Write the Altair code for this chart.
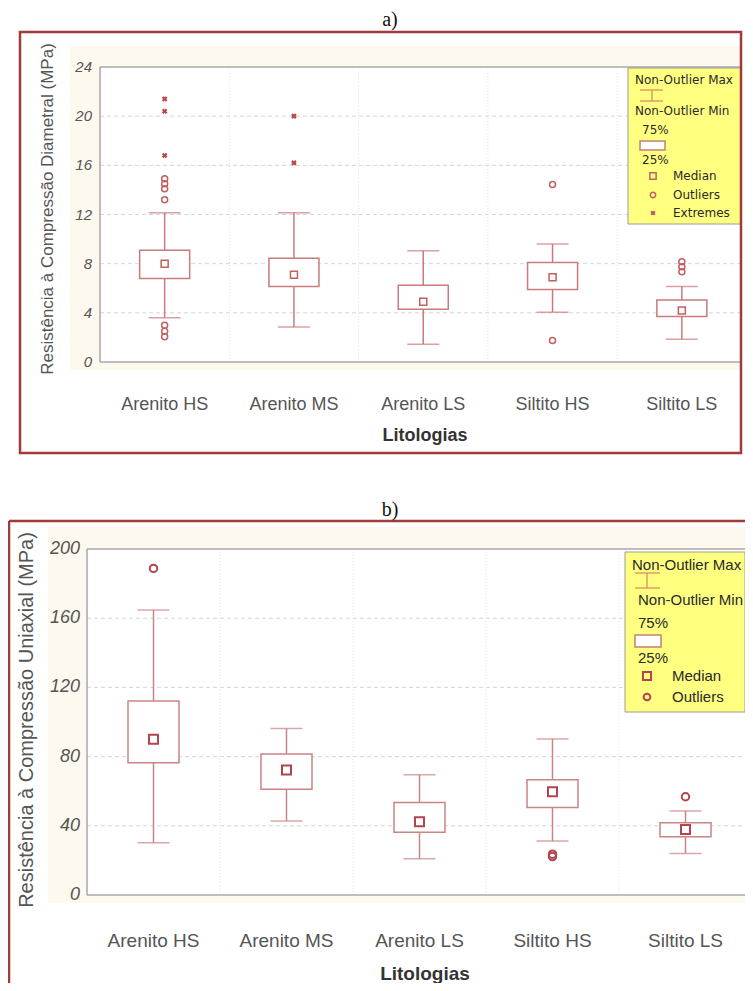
import altair as alt
import pandas as pd

# ---------------- data ----------------
cats = ["Arenito HS", "Arenito MS", "Arenito LS", "Siltito HS", "Siltito LS"]

# a) Resistência à Compressão Diametral (MPa)
a_min = [3.6, 2.85, 1.45, 4.05, 1.85]
a_q1 = [6.8, 6.15, 4.3, 5.9, 3.7]
a_med = [8.0, 7.1, 4.9, 6.9, 4.2]
a_q3 = [9.1, 8.45, 6.25, 8.1, 5.05]
a_max = [12.15, 12.15, 9.05, 9.6, 6.15]
a_out_cat = ["Arenito HS"] * 7 + ["Siltito HS"] * 2 + ["Siltito LS"] * 3
a_out_val = [14.9, 14.5, 14.1, 13.2, 3.0, 2.5, 2.05, 14.45, 1.75, 8.15, 7.75, 7.35]
a_ext_cat = ["Arenito HS"] * 3 + ["Arenito MS"] * 2
a_ext_val = [21.4, 20.4, 16.8, 20.0, 16.2]
a_ticks = [0, 4, 8, 12, 16, 20, 24]

# b) Resistência à Compressão Uniaxial (MPa)
b_min = [30.2, 42.8, 21.0, 31.2, 24.0]
b_q1 = [76.4, 61.1, 36.2, 50.6, 33.7]
b_med = [90.0, 72.3, 42.3, 59.7, 37.9]
b_q3 = [112.1, 81.5, 53.5, 66.6, 41.8]
b_max = [164.7, 96.3, 69.5, 90.2, 48.5]
b_out_cat = ["Arenito HS", "Siltito HS", "Siltito HS", "Siltito LS"]
b_out_val = [188.8, 23.6, 22.2, 56.8]
b_ticks = [0, 40, 80, 120, 160, 200]

FONT = "Liberation Sans"
FRAME = "#a23a3a"
CREAM = "#fdf9ee"
LEGEND_BG = "#ffff80"
M = 8  # page margin: page coordinate -> chart coordinate
dummy = pd.DataFrame({"k": [0]})


def rect(x, x2, y, y2, **kw):
    return alt.Chart(dummy).mark_rect(**kw).encode(
        x=alt.value(x - M), x2=alt.value(x2 - M), y=alt.value(y - M), y2=alt.value(y2 - M))


def rule(x, x2, y, y2, **kw):
    return alt.Chart(dummy).mark_rule(**kw).encode(
        x=alt.value(x - M), x2=alt.value(x2 - M), y=alt.value(y - M), y2=alt.value(y2 - M))


def text(t, x, y, **kw):
    return alt.Chart(dummy).mark_text(text=t, **kw).encode(x=alt.value(x - M), y=alt.value(y - M))


def point(x, y, **kw):
    return alt.Chart(dummy).mark_point(**kw).encode(x=alt.value(x - M), y=alt.value(y - M))


def panel(P):
    x0, x1, y0, y1 = P["plot"]          # plot area (page coords)
    xr0, xr1 = P["xrange"]              # band range (page coords)
    xsc = alt.Scale(domain=cats, range=[xr0 - M, xr1 - M], paddingInner=0, paddingOuter=0)
    ysc = alt.Scale(domain=P["ydom"], range=[y1 - M, y0 - M], nice=False, zero=False)

    def X(**kw):
        return alt.X("cat:N", scale=xsc, axis=None, **kw)

    def Y(f):
        return alt.Y(f, type="quantitative", scale=ysc, axis=None)

    box_df = pd.DataFrame({"cat": cats, "lo": P["mn"], "q1": P["q1"], "med": P["med"],
                           "q3": P["q3"], "hi": P["mx"]})
    out_df = pd.DataFrame({"cat": P["out_cat"], "v": P["out_val"]})
    tick_df = pd.DataFrame({"v": P["ticks"]})
    grid_df = pd.DataFrame({"v": P["ticks"][1:-1]})
    vgrid_df = pd.DataFrame({"cat": cats[1:]})
    cat_df = pd.DataFrame({"cat": cats})
    C = P["color"]
    CM = P["mcolor"]
    lw = P["lw"]

    layers = []
    cr = P["cream"]
    layers.append(rect(cr[0], cr[1], cr[2], cr[3], fill=CREAM))
    layers.append(rect(x0, x1, y0, y1, fill="white"))
    # grid
    layers.append(alt.Chart(grid_df).mark_rule(color="#d6d6d6", strokeDash=[4, 3], strokeWidth=1).encode(
        y=Y("v"), x=alt.value(x0 - M), x2=alt.value(x1 - M)))
    layers.append(alt.Chart(vgrid_df).mark_rule(color="#e2e2e2", strokeDash=[1, 2], strokeWidth=1).encode(
        x=X(bandPosition=0), y=alt.value(y0 - M), y2=alt.value(y1 - M)))
    # plot borders
    layers.append(rule(x0, x0, y0, y1, color="#a8a8a8", strokeWidth=1.5))
    layers.append(rule(x0, x1, y0, y0, color="#a8a8a8", strokeWidth=1.5))
    layers.append(rule(x0, x1, y1, y1, color="#a8a8a8", strokeWidth=1.5))
    # tick labels
    layers.append(alt.Chart(tick_df).mark_text(
        font=FONT, fontSize=P["ylab_fs"], fontStyle="italic", color="#555",
        align="right", baseline="middle").encode(
        y=Y("v"), x=alt.value(P["ylab_x"] - M), text=alt.Text("v:Q")))
    layers.append(alt.Chart(cat_df).mark_text(
        font=FONT, fontSize=P["xlab_fs"], color="#555", align="center",
        baseline="alphabetic").encode(
        x=X(), y=alt.value(P["xlab_y"] - M), text=alt.Text("cat:N")))
    # boxes
    base = alt.Chart(box_df)
    layers.append(base.mark_rule(color=C, strokeWidth=lw).encode(x=X(), y=Y("lo"), y2=alt.Y2("hi")))
    layers.append(base.mark_bar(size=P["boxw"], fill="white", stroke=C, strokeWidth=lw).encode(
        x=X(), y=Y("q1"), y2=alt.Y2("q3")))
    layers.append(base.mark_tick(size=P["capw"], thickness=lw, color=C).encode(x=X(), y=Y("lo")))
    layers.append(base.mark_tick(size=P["capw"], thickness=lw, color=C).encode(x=X(), y=Y("hi")))
    layers.append(base.mark_point(shape="square", size=P["medsize"], filled=False, color=CM,
                                  strokeWidth=P["medlw"], opacity=1).encode(x=X(), y=Y("med")))
    layers.append(alt.Chart(out_df).mark_point(shape="circle", size=P["outsize"], filled=False,
                                               color=CM, strokeWidth=P["medlw"], opacity=1).encode(
        x=X(), y=Y("v")))
    if P.get("ext_cat"):
        ext_df = pd.DataFrame({"cat": P["ext_cat"], "v": P["ext_val"]})
        layers.append(alt.Chart(ext_df).mark_point(shape="cross", angle=45, size=32, filled=True,
                                                   color="#b84a4a", opacity=1).encode(x=X(), y=Y("v")))

    # legend (page coords = plot origin + offsets)
    L = P["legend"]
    ox, oy = x0, y0
    lf = L["font"]
    tk = dict(font=lf, fontSize=L["fs"], color="#2a2a2a", align="left", baseline="middle")
    r = L["rect"]
    layers.append(rect(ox + r[0], ox + r[1], oy + r[2], oy + r[3], fill=LEGEND_BG,
                       stroke="#9a9a9a", strokeWidth=1))
    layers.append(text("Non-Outlier Max", ox + L["t1x"], oy + L["t1y"], **tk))
    wx, wy1, wy2, cx1, cx2 = L["whisk"]
    layers.append(rule(ox + wx, ox + wx, oy + wy1, oy + wy2, color="#d89060", strokeWidth=1.3))
    layers.append(rule(ox + cx1, ox + cx2, oy + wy1, oy + wy1, color="#d89060", strokeWidth=1.3))
    layers.append(rule(ox + cx1, ox + cx2, oy + wy2, oy + wy2, color="#d89060", strokeWidth=1.3))
    layers.append(text("Non-Outlier Min", ox + L["t2x"], oy + L["t2y"], **tk))
    layers.append(text("75%", ox + L["p75x"], oy + L["p75y"], **tk))
    b = L["box"]
    layers.append(rect(ox + b[0], ox + b[1], oy + b[2], oy + b[3], fill="white",
                       stroke="#c9806a", strokeWidth=1.5))
    layers.append(text("25%", ox + L["p75x"], oy + L["p25y"], **tk))
    mx_, my_ = L["med"]
    layers.append(point(ox + mx_, oy + my_, shape="square", size=P["medsize"] * 0.8, filled=False,
                        color=CM, strokeWidth=P["medlw"], opacity=1))
    layers.append(text("Median", ox + L["tx"], oy + my_, **tk))
    qx_, qy_ = L["out"]
    layers.append(point(ox + qx_, oy + qy_, shape="circle", size=P["outsize"] * 0.8, filled=False,
                        color=CM, strokeWidth=P["medlw"], opacity=1))
    layers.append(text("Outliers", ox + L["tx"], oy + qy_, **tk))
    if "ext" in L:
        ex_, ey_ = L["ext"]
        layers.append(point(ox + ex_, oy + ey_, shape="cross", angle=45, size=28, filled=True,
                            color="#c05a6a", opacity=1))
        layers.append(text("Extremes", ox + L["tx"], oy + ey_, **tk))

    # frame
    for fr in P["frame_rules"]:
        layers.append(rule(*fr, color=FRAME, strokeWidth=2.5))
    if P.get("frame_rect"):
        f = P["frame_rect"]
        layers.append(alt.Chart(dummy).mark_rect(filled=False, stroke=FRAME, strokeWidth=2.5).encode(
            x=alt.value(f[0] - M), x2=alt.value(f[1] - M), y=alt.value(f[2] - M), y2=alt.value(f[3] - M)))

    # titles
    layers.append(text(P["label"], P["lab_xy"][0], P["lab_xy"][1], font="Liberation Serif",
                       fontSize=20, color="#111", align="center", baseline="alphabetic"))
    layers.append(text(P["ytitle"], P["yt_xy"][0], P["yt_xy"][1], font=FONT, fontSize=P["yt_fs"],
                       color="#555", angle=270, align="center", baseline="middle"))
    layers.append(text("Litologias", P["xt_xy"][0], P["xt_xy"][1], font=FONT, fontSize=P["xt_fs"],
                       fontWeight="bold", color="#333", align="center", baseline="middle"))

    return alt.layer(*layers)


PA = dict(
    plot=(100, 741, 67, 362), xrange=(100, 746.5), ydom=[0, 24], ticks=a_ticks,
    mn=a_min, q1=a_q1, med=a_med, q3=a_q3, mx=a_max,
    out_cat=a_out_cat, out_val=a_out_val, ext_cat=a_ext_cat, ext_val=a_ext_val,
    color="#c77b7b", mcolor="#c06060", lw=1.5, boxw=50, capw=32,
    medsize=49, medlw=1.5, outsize=36,
    xlab_fs=18, xlab_y=410, ylab_fs=15, ylab_x=92,
    cream=(70, 741, 46, 370),
    frame_rules=[], frame_rect=(20, 741, 32, 453),
    label="a)", lab_xy=(390, 26),
    ytitle="Resistência à Compressão Diametral (MPa)", yt_xy=(48, 209), yt_fs=17,
    xt_xy=(425, 436), xt_fs=18,
    legend=dict(font="DejaVu Sans", fs=12, rect=(528, 641, 1, 157),
                t1x=535, t1y=13, whisk=(552, 23, 34, 540, 563), t2x=535, t2y=44,
                p75x=542, p75y=63, box=(540, 565, 74, 83), p25y=93,
                med=(553, 109), out=(553, 128), ext=(553, 146), tx=573),
)

PB = dict(
    plot=(87, 745, 549, 895), xrange=(87, 752), ydom=[0, 200], ticks=b_ticks,
    mn=b_min, q1=b_q1, med=b_med, q3=b_q3, mx=b_max,
    out_cat=b_out_cat, out_val=b_out_val,
    color="#c98484", mcolor="#b3444c", lw=1.5, boxw=51, capw=32,
    medsize=81, medlw=2, outsize=56,
    xlab_fs=19, xlab_y=947, ylab_fs=18, ylab_x=80,
    cream=(48, 745, 527, 903),
    frame_rules=[(9, 745, 521, 521), (9, 9, 521, 983)], frame_rect=None,
    label="b)", lab_xy=(390, 516),
    ytitle="Resistência à Compressão Uniaxial (MPa)", yt_xy=(27, 720), yt_fs=20,
    xt_xy=(425, 974), xt_fs=19,
    legend=dict(font=FONT, fs=15, rect=(538, 658, 3, 163),
                t1x=545, t1y=16, whisk=(560, 24, 39, 548, 573), t2x=551, t2y=51,
                p75x=551, p75y=74, box=(548, 574, 86, 98), p25y=109,
                med=(560, 127), out=(560, 148), tx=585),
)

chart = alt.layer(panel(PA), panel(PB)).resolve_scale(
    x="independent", y="independent"
).properties(
    width=737, height=975, padding=0, background="white",
    autosize=alt.AutoSizeParams(type="none"),
).configure_view(stroke=None)

chart.save("out.html", embed_options={"renderer": "svg", "actions": False})
